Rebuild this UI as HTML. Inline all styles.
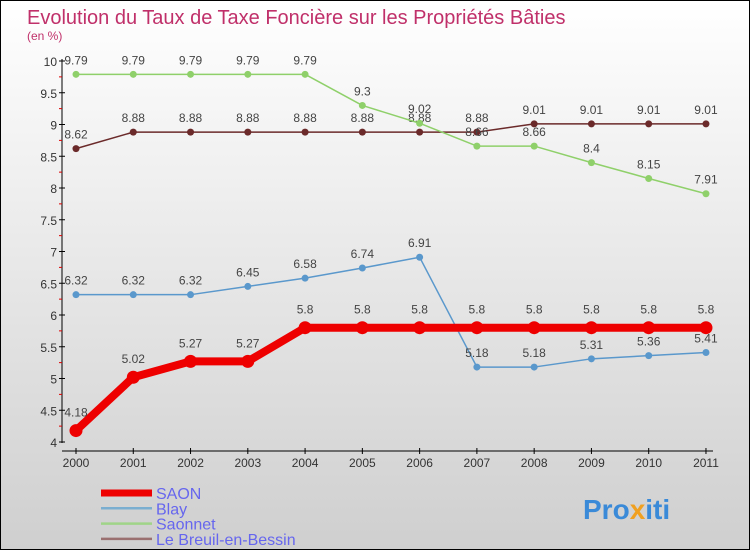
<!DOCTYPE html>
<html><head><meta charset="utf-8"><style>
body{margin:0}
#c{width:750px;height:550px;position:relative;box-sizing:border-box;border:1px solid #000;background:linear-gradient(#fff,#cfcfcf);font-family:"Liberation Sans",sans-serif;overflow:hidden}
</style></head><body>
<div id="c">
<svg id="s" width="748" height="548" style="position:absolute;left:0;top:0">
<text x="26" y="23" font-size="20" fill="#c0306a">Evolution du Taux de Taxe Foncière sur les Propriétés Bâties</text>
<text x="26" y="39" font-size="12" fill="#c0306a">(en %)</text>
<g id="axes"></g><g id="series"></g><g id="legend"></g>
<text x="582" y="518" font-size="28" font-weight="bold" fill="#3a8ad8">Pro<tspan fill="#f0a020">x</tspan>iti</text>
</svg>
</div>
<script>
const years=["2000","2001","2002","2003","2004","2005","2006","2007","2008","2009","2010","2011"];
const yTicks=[4,4.5,5,5.5,6,6.5,7,7.5,8,8.5,9,9.5,10];
const saon=[4.18,5.02,5.27,5.27,5.8,5.8,5.8,5.8,5.8,5.8,5.8,5.8];
const blay=[6.32,6.32,6.32,6.45,6.58,6.74,6.91,5.18,5.18,5.31,5.36,5.41];
const saonnet=[9.79,9.79,9.79,9.79,9.79,9.3,9.02,8.66,8.66,8.4,8.15,7.91];
const breuil=[8.62,8.88,8.88,8.88,8.88,8.88,8.88,8.88,9.01,9.01,9.01,9.01];
const NS="http://www.w3.org/2000/svg";
const X=i=>75+i*57.27, Y=v=>60+(10-v)/6*381;
function mk(t,a,p,name){const e=document.createElementNS(NS,t);for(const k in a)e.setAttribute(k,a[k]);


p.appendChild(e);return e;}
const ax=document.getElementById('axes');
mk('line',{x1:61,y1:58,x2:61,y2:442,stroke:'#000'},ax,'y-axis');
mk('line',{x1:61,y1:450,x2:712,y2:450,stroke:'#000'},ax,'x-axis');
yTicks.forEach(v=>{const y=Y(v);const major=Number.isInteger(v)||true;
mk('line',{x1:58,y1:y,x2:64,y2:y,stroke:'#000'},ax,'y-tick');
const t=mk('text',{x:56,y:y+5,'font-size':12,fill:'#333','text-anchor':'end'},ax,'y-tick-label');t.textContent=String(v);
if(v<10){const ym=Y(v+0.25);mk('line',{x1:58,y1:ym,x2:61,y2:ym,stroke:'#d00'},ax,'y-minor-tick');}});
years.forEach((yr,i)=>{const x=X(i);mk('line',{x1:x,y1:447,x2:x,y2:453,stroke:'#000'},ax,'x-tick');
const t=mk('text',{x:x,y:466,'font-size':12,fill:'#333','text-anchor':'middle'},ax,'x-tick-label');t.textContent=yr;});
const sg=document.getElementById('series');
function draw(d,color,w,r,name,labOff){
mk('polyline',{points:d.map((v,i)=>X(i)+','+Y(v)).join(' '),fill:'none',stroke:color,'stroke-width':w,'stroke-linejoin':'round'},sg,name+'-line');
d.forEach((v,i)=>{mk('circle',{cx:X(i),cy:Y(v),r:r,fill:color},sg,name+'-point');
const t=mk('text',{x:X(i),y:Y(v)+labOff,'font-size':12,fill:'#444','text-anchor':'middle'},sg,name+'-value');t.textContent=String(v);});}
draw(breuil,'#6b2a2a',1.5,3.5,'breuil',-10);
draw(saonnet,'#8fd06a',1.5,3.5,'saonnet',-10);
draw(blay,'#5a98cc',1.5,3.5,'blay',-10);
draw(saon,'#ee0000',8,6.5,'saon',-14);
const lg=document.getElementById('legend');
[["SAON","#ee0000",7],["Blay","#7aaed0",2.5],["Saonnet","#a0d488",2.5],["Le Breuil-en-Bessin","#9a7070",2.5]].forEach((e,i)=>{
const y=492+i*15.3;mk('line',{x1:100,y1:y,x2:151,y2:y,stroke:e[1],'stroke-width':e[2]},lg,'legend-swatch');
const t=mk('text',{x:155,y:y+6,'font-size':16,fill:'#6666ee'},lg,'legend-entry');t.textContent=e[0];});
</script>
</body></html>
